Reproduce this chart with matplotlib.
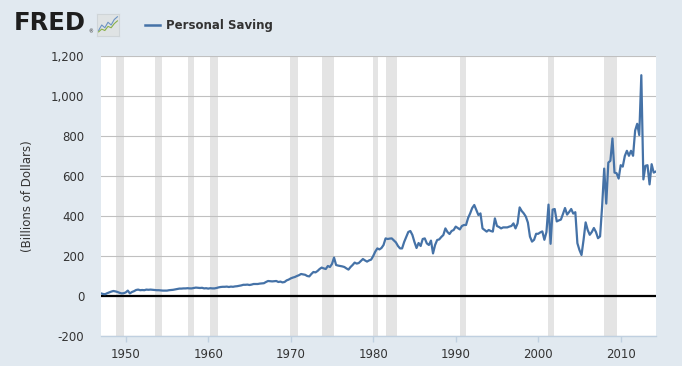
import matplotlib.pyplot as plt
import matplotlib.ticker as mticker
import numpy as np

# quarterly personal saving, billions of dollars, 1947Q1 onwards
saving = [
    13, 10, 9, 14,        # 1947
    18, 22, 25, 23,       # 1948
    20, 16, 13, 14,       # 1949
    18, 27, 13, 20,       # 1950
    24, 30, 32, 29,       # 1951
    30, 29, 32, 31,       # 1952
    32, 31, 30, 29,       # 1953
    29, 28, 27, 27,       # 1954
    27, 29, 30, 31,       # 1955
    33, 35, 37, 37,       # 1956
    38, 38, 39, 38,       # 1957
    38, 40, 42, 41,       # 1958
    40, 41, 38, 39,       # 1959
    37, 39, 38, 38,       # 1960
    40, 43, 45, 46,       # 1961
    46, 47, 45, 47,       # 1962
    46, 48, 49, 51,       # 1963
    53, 56, 56, 57,       # 1964
    55, 57, 60, 60,       # 1965
    60, 62, 63, 64,       # 1966
    70, 75, 74, 73,       # 1967
    74, 75, 70, 72,       # 1968
    68, 70, 78, 82,       # 1969
    88, 92, 95, 100,      # 1970
    104, 110, 108, 106,   # 1971
    100, 98, 110, 120,    # 1972
    118, 125, 135, 142,   # 1973
    138, 135, 150, 145,   # 1974
    160, 192, 155, 152,   # 1975
    150, 148, 145, 138,   # 1976
    132, 145, 155, 167,   # 1977
    162, 165, 175, 185,   # 1978
    178, 172, 178, 182,   # 1979
    200, 222, 238, 233,   # 1980
    240, 255, 288, 285,   # 1981
    287, 288, 278, 268,   # 1982
    250, 238, 238, 270,   # 1983
    295, 320, 325, 305,   # 1984
    270, 240, 265, 250,   # 1985
    285, 288, 263, 255,   # 1986
    277, 213, 255, 280,   # 1987
    283, 295, 305, 338,   # 1988
    320, 310, 325, 330,   # 1989
    347, 340, 333, 350,   # 1990
    355, 355, 390, 413,   # 1991
    440, 455, 430, 405,   # 1992
    413, 338, 330, 322,   # 1993
    330, 325, 322, 388,   # 1994
    350, 345, 338, 343,   # 1995
    343, 343, 347, 350,   # 1996
    363, 338, 363, 443,   # 1997
    425, 413, 397, 367,   # 1998
    297, 272, 281, 311,   # 1999
    311, 318, 323, 281,   # 2000
    320, 457, 261, 432,   # 2001
    435, 373, 378, 382,   # 2002
    410, 440, 407, 420,   # 2003
    435, 412, 419, 264,   # 2004
    230, 205, 281, 368,   # 2005
    330, 306, 320, 340,   # 2006
    320, 289, 298, 449,   # 2007
    637, 462, 667, 676,   # 2008
    788, 617, 614, 587,   # 2009
    654, 647, 700, 726,   # 2010
    701, 726, 701, 827,   # 2011
    861, 805, 1104, 583,  # 2012
    651, 654, 558, 659,   # 2013
    617, 622,             # 2014
]

recessions = [
    ('1948-11', '1949-10'), ('1953-07', '1954-05'), ('1957-08', '1958-04'),
    ('1960-04', '1961-02'), ('1969-12', '1970-11'), ('1973-11', '1975-03'),
    ('1980-01', '1980-07'), ('1981-07', '1982-11'), ('1990-07', '1991-03'),
    ('2001-03', '2001-11'), ('2007-12', '2009-06'),
]

y_ticks = [-200, 0, 200, 400, 600, 800, 1000, 1200]
x_ticks = [1950, 1960, 1970, 1980, 1990, 2000, 2010]

# small decorative icon next to the logo
icon_x = [0, 1, 2, 3, 4, 5, 6]
icon_blue = [1, 3, 2, 4, 3, 5, 6]
icon_green = [0.5, 1.5, 1, 2.5, 2, 3.5, 4.5]


def month_to_year(s):
    y, m = s.split('-')
    return int(y) + (int(m) - 1) / 12


years = 1947 + np.arange(len(saving)) / 4

bg = '#e1e9f0'
text_col = '#333333'

fig = plt.figure(figsize=(6.82, 3.66), dpi=100, facecolor=bg)
ax = fig.add_axes([101 / 682, 30 / 366, 555 / 682, 280 / 366])
ax.set_facecolor('white')

for start, end in recessions:
    ax.axvspan(month_to_year(start), month_to_year(end) + 1 / 12,
               color='#e4e4e4', lw=0, zorder=0)

for t in y_ticks:
    if t != 0:
        ax.axhline(t, color='#c0c0c0', lw=0.8, zorder=1)
ax.axhline(0, color='black', lw=1.6, zorder=2)

ax.plot(years, saving, color='#4572a7', lw=1.6, zorder=3)

ax.set_xlim(1947, years[-1] + 0.03)
ax.set_ylim(-200, 1200)
ax.set_xticks(x_ticks)
ax.set_yticks(y_ticks)
ax.yaxis.set_major_formatter(mticker.FuncFormatter(lambda v, p: f'{v:,.0f}'))

for side in ['top', 'right', 'left']:
    ax.spines[side].set_visible(False)
ax.spines['bottom'].set_color('#c0d0e0')
ax.spines['bottom'].set_linewidth(1)
ax.spines['bottom'].set_zorder(4)
ax.tick_params(axis='x', colors='#c0d0e0', length=4, width=1, pad=5,
               labelcolor=text_col, labelsize=8.5)
ax.tick_params(axis='y', length=0, pad=12, labelcolor=text_col, labelsize=8.5)
ax.set_ylabel('(Billions of Dollars)', color=text_col, fontsize=8.5, labelpad=12)

# header: logo and legend
fig.text(14 / 682, 1 - 23 / 366, 'FRED', fontsize=17.5, fontweight='heavy',
         color='#1e1e1e', va='center', ha='left')
fig.text(88 / 682, 1 - 32 / 366, '®', fontsize=3.5, color='#1e1e1e', va='center')
icon = fig.add_axes([97 / 682, 1 - 36 / 366, 22 / 682, 22 / 366])
icon.set_facecolor('#dfe3e4')
icon.plot(icon_x, icon_blue, color='#6b93c3', lw=0.8)
icon.plot(icon_x, icon_green, color='#8ab04a', lw=0.8)
icon.set_xlim(-0.5, 6.5)
icon.set_ylim(-1, 7)
icon.set_xticks([])
icon.set_yticks([])
for s in icon.spines.values():
    s.set_color('#cfd5d8')

fig.lines.append(plt.Line2D([145 / 682, 160 / 682], [1 - 25 / 366, 1 - 25 / 366],
                            transform=fig.transFigure, color='#4572a7', lw=1.8))
fig.text(166 / 682, 1 - 25 / 366, 'Personal Saving', fontsize=8.5,
         fontweight='bold', color=text_col, va='center', ha='left')

fig.savefig('out.png', dpi=100, facecolor=bg)
